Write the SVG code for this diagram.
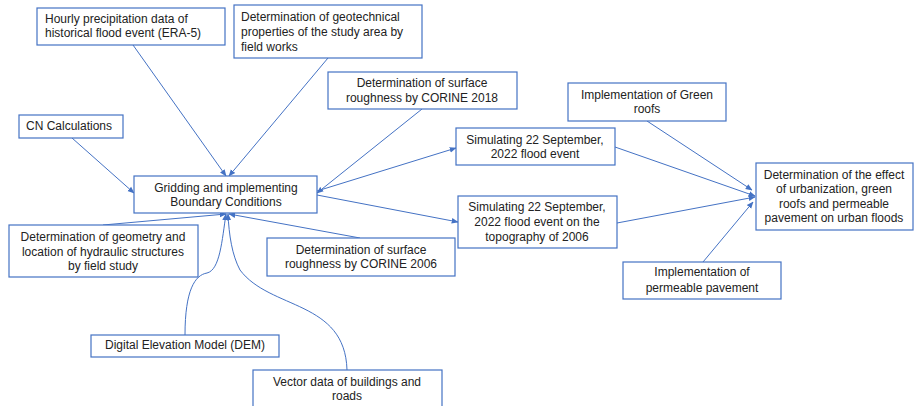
<svg xmlns="http://www.w3.org/2000/svg" width="914" height="406" viewBox="0 0 914 406">
<style>
.box{fill:#fff;stroke:#4472C4;stroke-width:1.2}
text{font-family:"Liberation Sans",Arial,sans-serif;font-size:12px;fill:#222}
.c{text-anchor:middle}
.ln{fill:none;stroke:#4472C4;stroke-width:1;marker-end:url(#ah)}
</style>
<defs>
<marker id="ah" viewBox="0 0 10 10" refX="9" refY="5" markerWidth="7" markerHeight="7" orient="auto" markerUnits="userSpaceOnUse">
<path d="M0,1 L10,5 L0,9 z" fill="#4472C4"/>
</marker>
</defs>
<rect width="914" height="406" fill="#fff"/>
<g id="connectors">
<line class="ln" x1="133" y1="45" x2="226" y2="176"/>
<line class="ln" x1="328" y1="58" x2="229" y2="176"/>
<line class="ln" x1="422" y1="109" x2="317" y2="193"/>
<line class="ln" x1="72" y1="138" x2="134" y2="193"/>
<line class="ln" x1="317" y1="191" x2="456" y2="148"/>
<line class="ln" x1="317" y1="195" x2="458" y2="222"/>
<line class="ln" x1="103" y1="225" x2="226" y2="214"/>
<line class="ln" x1="360" y1="238" x2="229" y2="214"/>
<path class="ln" d="M185,335 C185,290 195,275 207,273 C220,270 222,240 226,214"/>
<path class="ln" d="M347,370 C345,300 270,310 240,270 C232,255 229,235 228,214"/>
<line class="ln" x1="615" y1="147" x2="755" y2="196"/>
<line class="ln" x1="647" y1="121" x2="752" y2="190"/>
<line class="ln" x1="617" y1="223" x2="755" y2="197"/>
<line class="ln" x1="703" y1="262" x2="753" y2="202"/>
</g>
<g id="n-hourly"><rect class="box" x="37" y="8" width="188" height="37"/>
<text x="45" y="23">Hourly precipitation data of</text><text x="45" y="37">historical flood event (ERA-5)</text></g>
<g id="n-geotech"><rect class="box" x="234" y="5" width="188" height="53"/>
<text x="241" y="21">Determination of geotechnical</text><text x="241" y="36">properties of the study area by</text><text x="241" y="51">field works</text></g>
<g id="n-corine2018"><rect class="box" x="328" y="72" width="189" height="37"/>
<text class="c" x="422" y="87">Determination of surface</text><text class="c" x="422" y="102">roughness by CORINE 2018</text></g>
<g id="n-cn"><rect class="box" x="19" y="115" width="104" height="23"/>
<text x="26" y="130">CN Calculations</text></g>
<g id="n-grid"><rect class="box" x="134" y="176" width="183" height="37"/>
<text class="c" x="226" y="192">Gridding and implementing</text><text class="c" x="226" y="206">Boundary Conditions</text></g>
<g id="n-geometry"><rect class="box" x="9" y="225" width="189" height="52"/>
<text class="c" x="103" y="241">Determination of geometry and</text><text class="c" x="103" y="256">location of hydraulic structures</text><text class="c" x="103" y="270">by field study</text></g>
<g id="n-corine2006"><rect class="box" x="267" y="238" width="188" height="38"/>
<text class="c" x="361" y="254">Determination of surface</text><text class="c" x="361" y="268">roughness by CORINE 2006</text></g>
<g id="n-dem"><rect class="box" x="91" y="335" width="188" height="22"/>
<text class="c" x="185" y="349">Digital Elevation Model (DEM)</text></g>
<g id="n-vector"><rect class="box" x="253" y="370" width="189" height="40"/>
<text class="c" x="347" y="386">Vector data of buildings and</text><text class="c" x="347" y="400">roads</text></g>
<g id="n-sim1"><rect class="box" x="456" y="128" width="159" height="37"/>
<text class="c" x="535" y="144">Simulating 22 September,</text><text class="c" x="535" y="158">2022 flood event</text></g>
<g id="n-sim2"><rect class="box" x="458" y="196" width="159" height="52"/>
<text class="c" x="537" y="211">Simulating 22 September,</text><text class="c" x="537" y="226">2022 flood event on the</text><text class="c" x="537" y="241">topography of 2006</text></g>
<g id="n-green"><rect class="box" x="568" y="83" width="158" height="38"/>
<text class="c" x="647" y="99">Implementation of Green</text><text class="c" x="647" y="113">roofs</text></g>
<g id="n-effect"><rect class="box" x="756" y="163" width="157" height="67"/>
<text class="c" x="834" y="179">Determination of the effect</text><text class="c" x="834" y="193">of urbanization, green</text><text class="c" x="834" y="208">roofs and permeable</text><text class="c" x="834" y="222">pavement on urban floods</text></g>
<g id="n-perm"><rect class="box" x="623" y="262" width="158" height="37"/>
<text class="c" x="702" y="276">Implementation of</text><text class="c" x="702" y="292">permeable pavement</text></g>
</svg>
